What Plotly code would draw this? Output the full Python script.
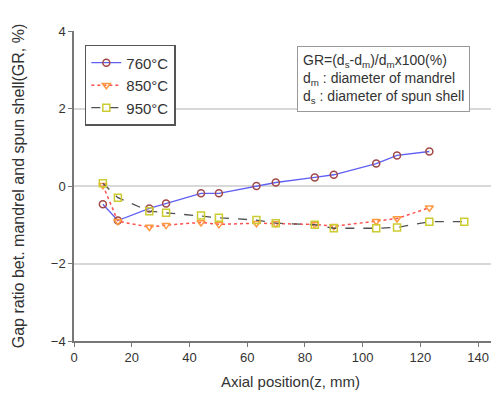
import plotly.graph_objects as go

x760 = [10.0, 15.2, 26.1, 31.9, 44.0, 50.2, 63.2, 69.9, 83.4, 90.0, 104.7, 111.9, 123.1]
y760 = [-0.47, -0.89, -0.58, -0.45, -0.19, -0.19, 0.0, 0.09, 0.22, 0.29, 0.58, 0.79, 0.89]

x850 = [10.0, 15.2, 26.1, 31.9, 44.0, 50.2, 63.2, 69.9, 83.4, 90.0, 104.7, 111.9, 123.1]
y850 = [0.02, -0.91, -1.06, -1.01, -0.94, -0.99, -0.96, -0.97, -0.99, -1.04, -0.91, -0.84, -0.56]

x950 = [10.0, 15.2, 26.1, 31.9, 44.0, 50.2, 63.2, 69.9, 83.4, 90.0, 104.7, 111.9, 123.1, 135.2]
y950 = [0.07, -0.30, -0.65, -0.69, -0.76, -0.82, -0.88, -0.96, -1.00, -1.09, -1.09, -1.07, -0.92, -0.92]

xticks = [0, 20, 40, 60, 80, 100, 120, 140]
yticks = [-4, -2, 0, 2, 4]

FONT = "Liberation Sans, Arial, sans-serif"

fig = go.Figure()
fig.add_trace(go.Scatter(
    x=x760, y=y760, name="760°C", mode="lines+markers",
    line=dict(color="#5f5ff5", width=1.3),
    marker=dict(symbol="circle-open", size=7, color="#a04848", line=dict(width=1.5)),
))
fig.add_trace(go.Scatter(
    x=x850, y=y850, name="850°C", mode="lines+markers",
    line=dict(color="#ff5050", width=1.5, dash="dot"),
    marker=dict(symbol="triangle-down-open", size=7, color="#ff9a40", line=dict(width=1.5)),
))
fig.add_trace(go.Scatter(
    x=x950, y=y950, name="950°C", mode="lines+markers",
    line=dict(color="#505050", width=1.3, dash="dash"),
    marker=dict(symbol="square-open", size=7, color="#cccc30", line=dict(width=1.5)),
))

fig.update_layout(
    width=499, height=393,
    margin=dict(l=66, r=0, t=23, b=60),
    paper_bgcolor="white", plot_bgcolor="white",
    font=dict(family=FONT, size=13, color="#333"),
    showlegend=True,
    legend=dict(
        x=0.025, y=0.955, xanchor="left", yanchor="top",
        bordercolor="#555", borderwidth=1.5, bgcolor="white",
        font=dict(size=15, color="#333"),
        tracegroupgap=0,
    ),
    xaxis=dict(
        range=[0, 150], tickvals=xticks, showgrid=False,
        showline=True, linecolor="#777", linewidth=1.5,
        ticks="outside", ticklen=4, tickcolor="#777",
        tickfont=dict(size=13, color="#333"),
        title=dict(text="Axial position(z, mm)", font=dict(size=15, color="#333"), standoff=12),
        zeroline=False,
    ),
    yaxis=dict(
        range=[-4, 4], tickvals=yticks, showgrid=True, gridcolor="#d8d8d8", gridwidth=1.5,
        showline=True, linecolor="#777", linewidth=1.5,
        ticks="outside", ticklen=4, tickcolor="#777",
        tickfont=dict(size=13, color="#333"),
        title=dict(text="Gap ratio bet. mandrel and spun shell(GR, %)", font=dict(size=16, color="#333"), standoff=22),
        zeroline=False,
    ),
    annotations=[dict(
        xref="paper", yref="paper", x=(290 - 66) / 434, y=(333 - 38) / 310,
        xanchor="left", yanchor="top", align="left", showarrow=False,
        text="GR=(d<sub>s</sub>-d<sub>m</sub>)/d<sub>m</sub>x100(%)<br>d<sub>m</sub> : diameter of mandrel<br>d<sub>s</sub> : diameter of spun shell",
        font=dict(size=14, color="#333"),
        bordercolor="#999", borderwidth=1, bgcolor="white", borderpad=5,
    )],
)

fig.write_html("out.html")
